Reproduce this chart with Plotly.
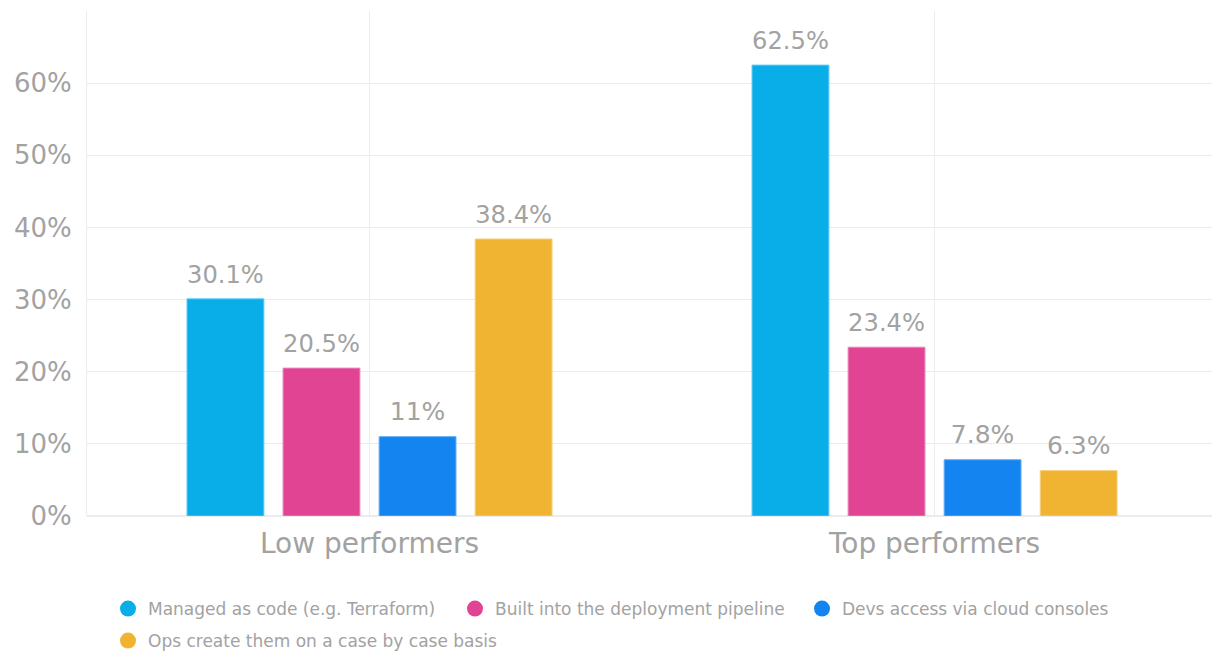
import plotly.graph_objects as go

# Survey groups and the share of respondents per provisioning approach
groups = ["Low performers", "Top performers"]
series_names = [
    "Managed as code (e.g. Terraform)",
    "Built into the deployment pipeline",
    "Devs access via cloud consoles",
    "Ops create them on a case by case basis",
]
managed_as_code = [30.1, 62.5]
deployment_pipeline = [20.5, 23.4]
cloud_consoles = [11, 7.8]
case_by_case = [38.4, 6.3]

y_ticks = [0, 10, 20, 30, 40, 50, 60, 70]
y_tick_text = ["0%", "10%", "20%", "30%", "40%", "50%", "60%", ""]

series_values = [managed_as_code, deployment_pipeline, cloud_consoles, case_by_case]
colors = ["#09AEE8", "#E04493", "#1484F0", "#F0B432"]
edge_colors = ["#5CCBF2", "#EC86B8", "#62AEF6", "#F6D07E"]

FONT = "DejaVu Sans"
GREY = "#a2a2a2"

fig = go.Figure()

for name, vals, col, edge in zip(series_names, series_values, colors, edge_colors):
    fig.add_trace(go.Bar(
        x=groups,
        y=vals,
        name=name,
        marker=dict(color=col, line=dict(color=edge, width=1)),
        # value label in a 25px span; the short trailing line lifts it off the bar
        text=[f"<span style='font-size:25px'>{v:g}%</span><br> " for v in vals],
        textposition="outside",
        textfont=dict(family=FONT, size=9, color=GREY),
        cliponaxis=False,
        showlegend=False,
        hoverinfo="skip",
    ))

# Round legend markers: first three entries on one row, the last one below
for i, (name, col) in enumerate(zip(series_names, colors)):
    fig.add_trace(go.Scatter(
        x=[None], y=[None],
        mode="markers",
        name=name,
        marker=dict(color=col, size=16, symbol="circle"),
        showlegend=True,
        legend="legend" if i < 3 else "legend2",
    ))

legend_common = dict(
    orientation="h",
    xref="container", yref="container",
    xanchor="left", yanchor="middle",
    font=dict(family=FONT, size=17, color=GREY),
    bgcolor="rgba(0,0,0,0)",
    itemclick=False, itemdoubleclick=False,
)

fig.update_layout(
    width=1212,
    height=653,
    margin=dict(l=87, r=0, t=11, b=137),
    paper_bgcolor="white",
    plot_bgcolor="white",
    barmode="group",
    bargap=0.32,
    bargroupgap=0.2,
    font=dict(family=FONT, color=GREY),
    legend=dict(x=108 / 1212, y=1 - 609 / 653, entrywidth=302,
                entrywidthmode="pixels", **legend_common),
    legend2=dict(x=108 / 1212, y=1 - 641 / 653, **legend_common),
    xaxis=dict(
        type="category",
        range=[-0.5, 1.491],
        showgrid=True,
        gridcolor="#ececec",
        gridwidth=1,
        showline=False,
        zeroline=False,
        ticks="",
        tickfont=dict(family=FONT, size=28, color=GREY),
        ticklabelstandoff=8,
    ),
    yaxis=dict(
        range=[0, 70],
        tickvals=y_ticks,
        ticktext=y_tick_text,
        showgrid=True,
        gridcolor="#ececec",
        gridwidth=1,
        zeroline=True,
        zerolinecolor="#ececec",
        showline=True,
        linecolor="#ececec",
        ticks="",
        tickfont=dict(family=FONT, size=26, color=GREY),
        ticklabelstandoff=9,
    ),
)

fig.write_html("out.html")
